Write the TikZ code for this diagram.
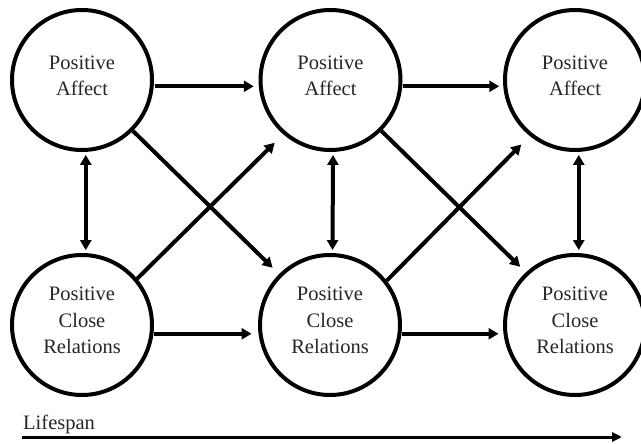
\documentclass[tikz,border=0pt]{standalone}
\usepackage{fontspec}
\setmainfont{Liberation Serif}
\usetikzlibrary{arrows.meta}
\begin{document}
\begin{tikzpicture}[x=1pt,y=-1pt,
  circ/.style={circle,draw,line width=4pt,minimum size=140pt,inner sep=0pt},
  lbl/.style={align=center,inner sep=0pt,font=\fontsize{20.5}{26.5}\selectfont,text=black!85},
  conn/.style={line width=4pt,-{Triangle[length=10pt,width=11pt]}},
  biconn/.style={line width=4pt,{Triangle[length=10pt,width=11pt]}-{Triangle[length=10pt,width=11pt]}}]
\useasboundingbox (0,0) rectangle (641,444);
% circles
\node[circ] (a1) at (82,80) {};
\node[circ] (a2) at (330.5,80) {};
\node[circ] (a3) at (575,80) {};
\node[circ] (r1) at (82,325) {};
\node[circ] (r2) at (330,325) {};
\node[circ] (r3) at (575,325) {};
% labels
\node[lbl] (ta1) at ([yshift=4pt]a1.center) {Positive\\Affect};
\node[lbl] (ta2) at ([yshift=4pt]a2.center) {Positive\\Affect};
\node[lbl] (ta3) at ([yshift=4pt]a3.center) {Positive\\Affect};
\node[lbl] (tr1) at ([yshift=4.5pt]r1.center) {Positive\\Close\\Relations};
\node[lbl] (tr2) at ([yshift=4.5pt]r2.center) {Positive\\Close\\Relations};
\node[lbl] (tr3) at ([yshift=4.5pt]r3.center) {Positive\\Close\\Relations};
% horizontal arrows
\draw[conn,shorten >=5pt,shorten <=1pt] (a1.-5.6) -- (a2.185.6);
\draw[conn,shorten >=4pt,shorten <=1pt] (a2.-5.6) -- (a3.185.6);
\draw[conn,shorten >=7pt,shorten <=1pt] (r1.-7.2) -- (r2.187.2);
\draw[conn,shorten >=5pt,shorten <=1pt] (r2.-7.2) -- (r3.187.2);
% vertical bidirectional arrows
\draw[biconn,shorten >=3pt,shorten <=3pt] (a1.-87) -- (r1.87);
\draw[biconn,shorten >=3pt,shorten <=3pt] (a2.-88) -- (r2.88);
\draw[biconn,shorten >=3pt,shorten <=3pt] (a3.-87) -- (r3.87);
% diagonals
\draw[conn,shorten >=9pt] (a1.-45) -- (r2.135);
\draw[conn,shorten >=8pt] (a2.-45) -- (r3.133);
\draw[conn,shorten >=12pt] (r1.40.6) -- (a2.229.3);
\draw[conn,shorten >=12pt] (r2.38.9) -- (a3.231.8);
% lifespan
\node[lbl,anchor=base west] (ls) at (23,429) {Lifespan};
\coordinate (lsa) at (22,437);
\coordinate (lsb) at (622,437);
\draw[line width=3pt,-{Triangle[length=10pt,width=9pt]}] (lsa) -- (lsb);
\end{tikzpicture}
\end{document}
